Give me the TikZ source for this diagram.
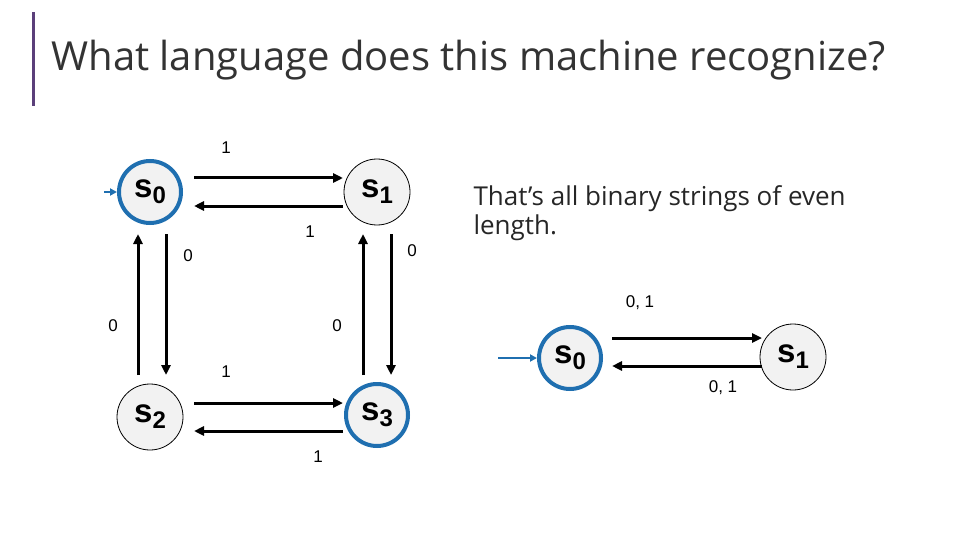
\documentclass[tikz,border=0pt]{standalone}
\usepackage{fontspec}
\setmainfont{Open Sans}
\newfontfamily\arial{Liberation Sans}
\usetikzlibrary{arrows.meta}
\definecolor{accent}{HTML}{1F6FB0}
\definecolor{bar}{HTML}{5B3F7A}
\definecolor{sfill}{HTML}{F2F2F2}
\newcommand{\stl}[1]{s\raisebox{-0.35ex}{\fontsize{24}{26}\selectfont #1}}
\tikzset{
  st/.style={circle,draw=black,line width=0.8pt,fill=sfill,minimum size=66pt,inner sep=0pt,font=\arial\bfseries\fontsize{33}{36}\selectfont},
  acc/.style={st,draw=accent,line width=4pt,minimum size=62pt},
  tr/.style={-{Triangle[length=10pt,width=9pt]},line width=3pt},
  ini/.style={-{Triangle[length=7pt,width=7pt]},line width=2.5pt,draw=accent,color=accent},
  lb/.style={font=\arial\fontsize{17}{19}\selectfont}
}
\begin{document}
\begin{tikzpicture}[x=1pt,y=-1pt]
\useasboundingbox (0,0) rectangle (960,540);
\fill[bar] (32,12) rectangle (35,106);
\node[anchor=west,font=\fontsize{40}{44}\selectfont,text=black!80] (title) at (48,60) {What language does this machine recognize?};
\node[acc] (a0) at (150,192) {\stl{0}};
\node[st] (a1) at (377,192) {\stl{1}};
\node[st] (a2) at (150,417) {\stl{2}};
\node[acc] (a3) at (377,415) {\stl{3}};
\coordinate (i0) at (104,192);
\draw[ini] (i0) -- (a0.west);
\draw[tr] (194,178) -- (343,178);
\draw[tr] (343,206) -- (194,206);
\draw[tr] (194,403) -- (343,403);
\draw[tr] (343,431) -- (194,431);
\draw[tr] (166,234) -- (166,375);
\draw[tr] (138,375) -- (138,234);
\draw[tr] (391,234) -- (391,375);
\draw[tr] (363,375) -- (363,234);
\node[lb] (l1) at (226,148) {1};
\node[lb] (l2) at (310,232) {1};
\node[lb] (l3) at (188,256) {0};
\node[lb] (l4) at (412,251) {0};
\node[lb] (l5) at (113,326) {0};
\node[lb] (l6) at (337,326) {0};
\node[lb] (l7) at (226,372) {1};
\node[lb] (l8) at (318,457) {1};
\node[anchor=north west,align=left,font=\fontsize{26}{29}\selectfont,text=black!85] (txt) at (470,182) {That’s all binary strings of even\\length.};
\node[acc] (b0) at (570,358) {\stl{0}};
\node[st] (b1) at (793,357) {\stl{1}};
\coordinate (i1) at (498,358);
\draw[ini] (i1) -- (b0.west);
\draw[tr] (612,338) -- (762,338);
\draw[tr] (762,366) -- (612,366);
\node[lb] (m1) at (640,303) {0, 1};
\node[lb] (m2) at (723,388) {0, 1};
\end{tikzpicture}
\end{document}
